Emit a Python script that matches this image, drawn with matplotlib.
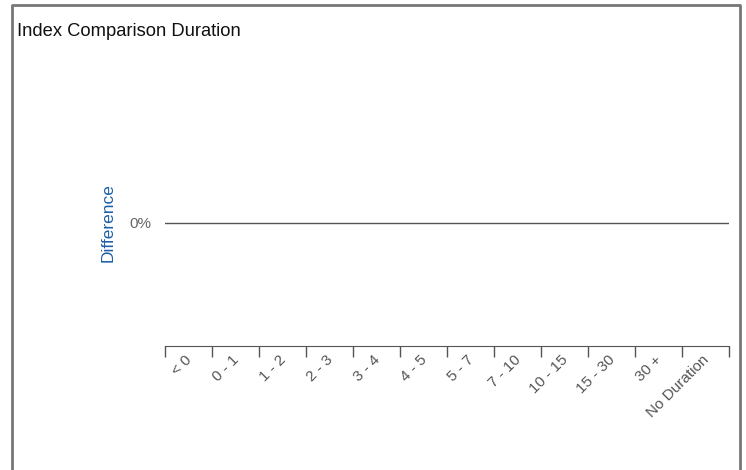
import numpy as np
import matplotlib.pyplot as plt
import matplotlib.transforms as mtransforms
from matplotlib.lines import Line2D

plt.rcParams['font.family'] = ['Liberation Sans', 'DejaVu Sans']

# data
categories = ['< 0', '0 - 1', '1 - 2', '2 - 3', '3 - 4', '4 - 5', '5 - 7',
              '7 - 10', '10 - 15', '15 - 30', '30 +', 'No Duration']
difference = [0, 0, 0, 0, 0, 0, 0, 0, 0, 0, 0, 0]

fig = plt.figure(figsize=(7.46, 4.70), dpi=100)
ax = fig.add_axes([165/746, 1 - 346/470, 564/746, 246/470])

x = np.arange(len(categories))
ax.bar(x, difference, width=0.6, color='#2166b0')
ax.axhline(0, color='#555555', lw=1)

ax.set_xlim(-0.5, len(categories) - 0.5)
ax.set_ylim(-1, 1)

# boundary ticks on the bottom axis
ax.set_xticks(np.arange(len(categories) + 1) - 0.5)
ax.set_xticklabels([])
ax.tick_params(axis='x', direction='out', length=8, color='#555555', width=1)
ax.set_xticks(x, minor=True)
ax.set_xticklabels(categories, minor=True, rotation=45, ha='right', va='top',
                   rotation_mode='anchor', fontsize=11, color='#555555')
ax.tick_params(axis='x', which='minor', length=0, pad=5)
shift = mtransforms.ScaledTranslation(-4/100, 0, fig.dpi_scale_trans)
for lab in ax.get_xticklabels(minor=True):
    lab.set_transform(lab.get_transform() + shift)

ax.set_yticks([0])
ax.set_yticklabels(['0%'], fontsize=11, color='#666666')
ax.tick_params(axis='y', length=0, pad=9.5)
ax.set_ylabel('Difference', color='#1f5fa8', fontsize=12.5, labelpad=10.5)

for s in ['top', 'right', 'left']:
    ax.spines[s].set_visible(False)
ax.spines['bottom'].set_color('#555555')

fig.text(17/746, 1 - 31/470, 'Index Comparison Duration', fontsize=13.2,
         va='center', ha='left', color='#111111')

# outer frame (left, top, right)
fx = [11.5/746, 11.5/746, 740/746, 740/746]
fy = [0, 1 - 4.5/470, 1 - 4.5/470, 0]
fig.add_artist(Line2D(fx, fy, transform=fig.transFigure, color='#777777', lw=2))

fig.savefig('out.png', dpi=100)
